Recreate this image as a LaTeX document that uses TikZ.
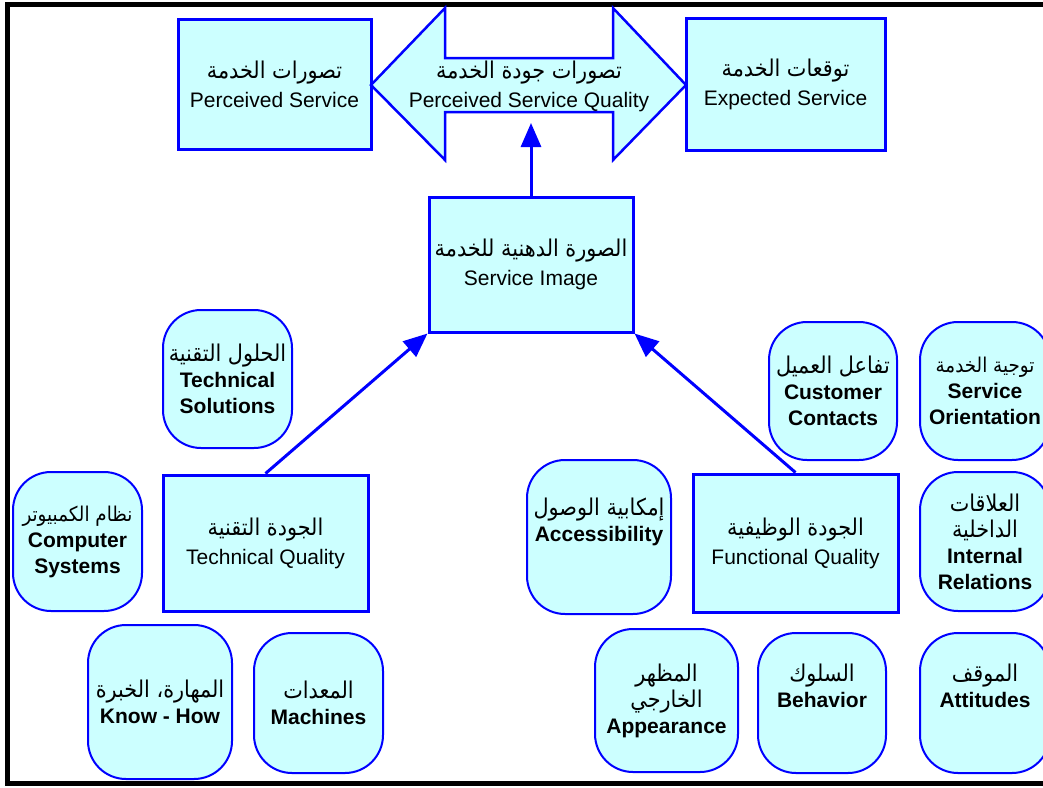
\documentclass[tikz,border=0pt]{standalone}
\usepackage{fontspec}
\setmainfont{Liberation Sans}
\newfontfamily\arabicfont[Script=Arabic,Scale=1.1,FakeStretch=0.9]{DejaVu Sans}
\TeXXeTstate=1
\usetikzlibrary{arrows.meta}
\definecolor{boxfill}{HTML}{CCFFFF}
\definecolor{boxline}{HTML}{0000FF}
\newcommand{\artxt}[1]{{\arabicfont\beginR #1\endR}}
\newcommand{\arsmall}[1]{{\fontsize{18.5}{26}\selectfont\arabicfont\mdseries\beginR #1\endR}}
\begin{document}
\begin{tikzpicture}[x=1pt,y=-1pt,
  mainbox/.style={draw=boxline,fill=boxfill,line width=3pt,inner sep=0pt,align=center,font=\fontsize{21}{29}\selectfont},
  softbox/.style={draw=boxline,fill=boxfill,line width=2pt,rounded corners=38pt,inner sep=0pt,align=center,font=\fontsize{21}{26}\selectfont\bfseries},
  link/.style={draw=boxline,line width=3pt,-{Triangle[length=24pt,width=20pt]}},
  frame/.style={draw=black,line width=5pt,line join=miter}]
\useasboundingbox (0,0) rectangle (1043,787);
\clip (0,0) rectangle (1043,787);

% frame
\draw[frame] (1050,4.5) -- (7.5,4.5) -- (7.5,783) -- (1050,783);

% top row
\node[mainbox,minimum width=193pt,minimum height=130pt] (ps) at (274.5,84)
  {\artxt{تصورات الخدمة}\\Perceived Service};
\node[mainbox,minimum width=199pt,minimum height=132pt] (es) at (785.5,84)
  {\artxt{توقعات الخدمة}\\Expected Service};
\draw[draw=boxline,fill=boxfill,line width=2.5pt,line join=miter]
  (371,85) -- (445,8) -- (445,58) -- (613,58) -- (613,8) -- (686,85)
  -- (613,160) -- (613,112) -- (445,112) -- (445,160) -- cycle;
\node[align=center,inner sep=0pt,font=\fontsize{21}{29}\selectfont] (psq) at (529,86)
  {\artxt{تصورات جودة الخدمة}\\Perceived Service Quality};
\coordinate (psqtip) at (531,123);

% service image
\node[mainbox,minimum width=204pt,minimum height=135pt] (si) at (531,264.5)
  {\artxt{الصورة الدهنية للخدمة}\\Service Image};
\draw[link] (si.north) -- (psqtip);

% quality boxes
\node[mainbox,minimum width=205pt,minimum height=136pt] (tq) at (265.5,543)
  {\artxt{الجودة التقنية}\\Technical Quality};
\node[mainbox,minimum width=205pt,minimum height=138pt] (fq) at (795.5,543)
  {\artxt{الجودة الوظيفية}\\Functional Quality};
\draw[link] (tq.north) -- (si.south west);
\draw[link] (fq.north) -- (si.south east);

% technical factors
\node[softbox,minimum width=129pt,minimum height=138pt] (ts) at (227.5,379)
  {\artxt{\mdseries الحلول التقنية}\\Technical\\Solutions};
\node[softbox,minimum width=129pt,minimum height=139pt] (cs) at (77.5,541.5)
  {\arsmall{نظام الكمبيوتر}\\Computer\\Systems};
\node[softbox,minimum width=144pt,minimum height=154pt] (kh) at (160,702)
  {\artxt{\mdseries المهارة، الخبرة}\\Know - How};
\node[softbox,minimum width=129pt,minimum height=140pt] (ma) at (318.5,703)
  {\artxt{\mdseries المعدات}\\Machines};

% functional factors
\node[softbox,minimum width=128pt,minimum height=138pt] (cc) at (833,391)
  {\artxt{\mdseries تفاعل العميل}\\Customer\\Contacts};
\node[softbox,minimum width=130pt,minimum height=138pt] (so) at (985,391)
  {\arsmall{توجية الخدمة}\\Service\\Orientation};
\node[softbox,minimum width=144pt,minimum height=154pt] (ac) at (599,537)
  {\artxt{\mdseries إمكابية الوصول}\\Accessibility\\\strut};
\node[softbox,minimum width=130pt,minimum height=139pt] (ir) at (985,541.5)
  {\artxt{\mdseries العلاقات}\\\artxt{\mdseries الداخلية}\\Internal\\Relations};
\node[softbox,minimum width=143pt,minimum height=143pt] (ap) at (666.5,700.5)
  {\artxt{\mdseries المظهر}\\\artxt{\mdseries الخارجي}\\Appearance};
\node[softbox,minimum width=128pt,minimum height=140pt] (be) at (822,703)
  {\artxt{\mdseries السلوك}\\Behavior\\\strut};
\node[softbox,minimum width=130pt,minimum height=140pt] (at) at (985,703)
  {\artxt{\mdseries الموقف}\\Attitudes\\\strut};
\end{tikzpicture}
\end{document}
